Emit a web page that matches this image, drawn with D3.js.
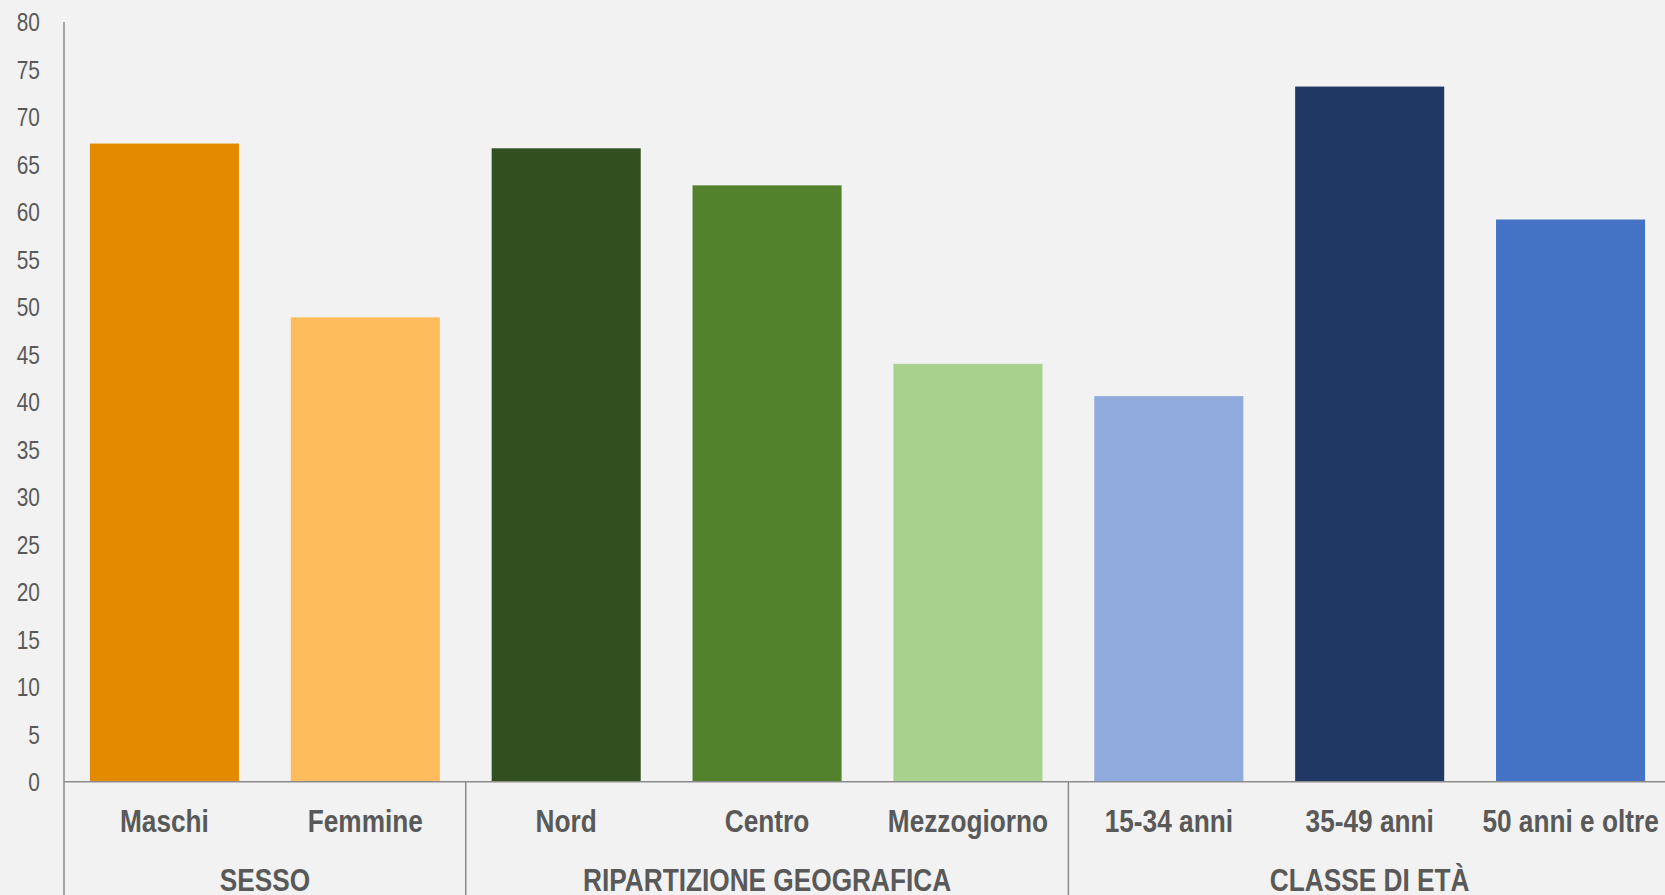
<!DOCTYPE html>
<html>
<head>
<meta charset="utf-8">
<script src="https://cdn.jsdelivr.net/npm/d3@7/dist/d3.min.js"></script>
<style>
  html, body { margin: 0; padding: 0; background: #f2f2f2; }
  svg { display: block; }
</style>
</head>
<body>
<svg id="chart" width="1665" height="895"></svg>
<script>
// Categories, their groups and the share values (%)
const categories = ["Maschi", "Femmine", "Nord", "Centro", "Mezzogiorno", "15-34 anni", "35-49 anni", "50 anni e oltre"];
const values = [67.2, 48.9, 66.7, 62.8, 44.0, 40.6, 73.2, 59.2];
const barColors = ["#e38a00", "#ffbc5c", "#324f20", "#52822c", "#a9d18e", "#8faadc", "#1f3864", "#4472c4"];
const groupNames = ["SESSO", "RIPARTIZIONE GEOGRAFICA", "CLASSE DI ETÀ"];
const groupSizes = [2, 3, 3];
const yTicks = [0, 5, 10, 15, 20, 25, 30, 35, 40, 45, 50, 55, 60, 65, 70, 75, 80];

(function draw() {
  const W = 1665, H = 895;
  const plotLeft = 64, plotRight = 1671, plotTop = 22, zeroY = 781.7;
  const textColor = "#595959";
  const lineColor = "#8c8c8c";

  // Pick a condensed face; fall back to squeezing the regular one
  function fontAvailable(name) {
    const c = document.createElement("canvas").getContext("2d");
    c.font = "30px monospace";
    const a = c.measureText("Mezzogiorno 0123").width;
    c.font = `30px '${name}', monospace`;
    const b = c.measureText("Mezzogiorno 0123").width;
    return Math.abs(a - b) > 0.5;
  }
  const hasNarrow = fontAvailable("Liberation Sans Narrow");
  const family = hasNarrow ? "'Liberation Sans Narrow', 'Arial Narrow', sans-serif" : "'Liberation Sans', Arial, sans-serif";
  const squeeze = hasNarrow ? 1 : 0.82;

  const svg = d3.select("#chart");
  svg.append("rect").attr("width", W).attr("height", H).attr("fill", "#f2f2f2");

  const x = d3.scaleBand().domain(categories).range([plotLeft, plotRight])
    .paddingInner(0.258).paddingOuter(0.129);
  const y = d3.scaleLinear().domain([0, 80]).range([zeroY, plotTop]);

  // Draws a text label, condensing horizontally around its anchor point when needed
  function label(g, txt, px, py, size, weight, anchor) {
    return g.append("text")
      .attr("transform", `translate(${px},${py}) scale(${squeeze},1)`)
      .attr("text-anchor", anchor)
      .attr("font-family", family)
      .attr("font-size", size)
      .attr("font-weight", weight)
      .attr("fill", textColor)
      .text(txt);
  }

  // Bars
  svg.append("g").selectAll("rect")
    .data(categories)
    .join("rect")
    .attr("x", d => x(d))
    .attr("width", x.bandwidth())
    .attr("y", (d, i) => y(values[i]))
    .attr("height", (d, i) => y(0) - y(values[i]))
    .attr("fill", (d, i) => barColors[i]);

  // Y axis labels
  const yAxis = d3.axisLeft(y).tickValues(yTicks).tickSize(0).tickPadding(0);
  const yg = svg.append("g").attr("transform", `translate(${plotLeft},0)`).call(yAxis);
  yg.select(".domain").remove();
  yg.selectAll(".tick text").remove();
  yg.selectAll(".tick").each(function(d) {
    label(d3.select(this), d, -24, 0, 25.5, "normal", "end").attr("dy", "0.35em");
  });

  const lines = svg.append("g").attr("stroke", lineColor).attr("stroke-width", 1.5);
  // Vertical axis, running down through the category area
  lines.append("line").attr("x1", plotLeft).attr("x2", plotLeft).attr("y1", plotTop).attr("y2", H);
  // Baseline
  lines.append("line").attr("x1", plotLeft).attr("x2", W).attr("y1", y(0)).attr("y2", y(0));

  // Category labels
  const catG = svg.append("g");
  categories.forEach(c => {
    label(catG, c, x(c) + x.bandwidth() / 2, 832, 32, "bold", "middle");
  });

  // Group dividers and group titles
  let start = 0;
  const step = x.step();
  groupNames.forEach((g, gi) => {
    const x0 = plotLeft + start * step;
    const x1 = plotLeft + (start + groupSizes[gi]) * step;
    if (gi > 0) {
      lines.append("line").attr("x1", x0).attr("x2", x0).attr("y1", y(0)).attr("y2", H);
    }
    label(catG, g, (x0 + x1) / 2, 891, 32, "bold", "middle");
    start += groupSizes[gi];
  });
})();
</script>
</body>
</html>
